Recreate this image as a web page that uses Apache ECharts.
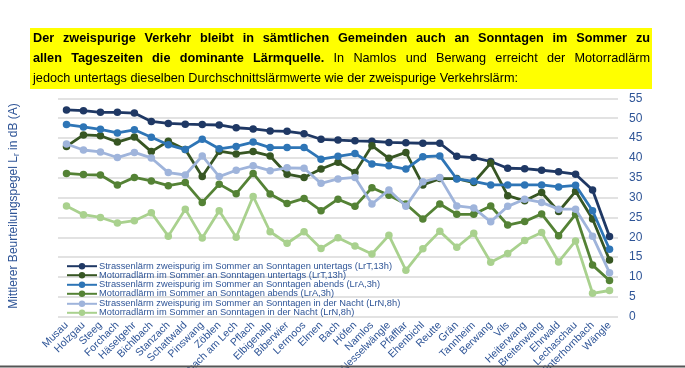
<!DOCTYPE html>
<html><head><meta charset="utf-8">
<script src="https://cdn.jsdelivr.net/npm/echarts@6/dist/echarts.min.js"></script>
<style>html,body{margin:0;padding:0;background:#fff}#c{width:685px;height:368px}</style>
</head><body><div id="c"></div>
<script>
const categories = ['Musau','Holzgau','Steeg','Forchach','Häselgehr','Bichlbach','Stanzach','Schattwald','Pinswang','Zöblen','Weißenbach am Lech','Pflach','Elbigenalp','Biberwier','Lermoos','Elmen','Bach','Höfen','Namlos','Nesselwängle','Pfafflar','Ehenbichl','Reutte','Grän','Tannheim','Berwang','Vils','Heiterwang','Breitenwang','Ehrwald','Lechaschau','Hinterhornbach','Wängle'];
const strasseLrT = [52.1,51.9,51.5,51.5,51.3,49.2,48.7,48.5,48.4,48.3,47.6,47.3,46.8,46.7,46.1,44.7,44.5,44.3,44.2,43.9,43.8,43.7,43.7,40.4,40.1,39.1,37.4,37.3,36.9,36.5,35.9,31.9,20.2];
const motorradLrT = [42.9,45.8,45.6,44.0,45.3,41.6,44.2,42.1,35.3,41.7,41.0,41.6,40.5,35.9,35.1,37.2,38.9,36.3,43.1,39.9,41.4,33.2,34.8,34.8,33.8,38.7,30.5,29.2,31.3,26.5,31.6,24.6,14.3];
const strasseLrA = [48.4,47.8,47.2,46.3,47.1,45.2,43.3,42.1,44.7,42.3,42.9,44.0,42.6,42.6,42.6,39.7,40.4,41.1,38.5,38.0,37.2,40.3,40.5,34.7,34.1,33.2,33.2,33.2,33.2,32.7,33.1,26.7,17.0];
const motorradLrA = [36.1,35.8,35.7,33.2,35.1,34.2,33.0,33.8,28.8,33.4,31.0,36.1,30.9,28.5,29.8,26.7,29.6,27.8,32.5,30.6,28.4,24.6,28.4,25.8,25.8,27.9,23.1,24.0,25.9,20.4,25.8,13.0,9.1];
const strasseLrN = [43.5,42.0,41.5,40.1,41.4,40.0,36.3,35.7,40.5,35.3,36.9,38.0,36.8,37.5,37.4,33.6,34.7,35.1,28.4,31.9,27.8,34.0,35.1,27.9,27.4,23.9,27.8,29.6,28.8,27.1,27.1,20.3,11.1];
const motorradLrN = [27.9,25.7,25.0,23.6,24.2,26.2,20.3,27.1,19.8,26.7,20.0,30.3,21.4,18.5,21.4,17.2,19.9,17.8,15.8,20.5,11.7,17.1,21.5,17.5,21.0,13.7,15.9,19.2,21.2,13.8,19.1,5.9,6.6];
const seriesNames = [
  'Strassenlärm zweispurig im Sommer an Sonntagen untertags (LrT,13h)',
  'Motorradlärm im Sommer an Sonntagen untertags (LrT,13h)',
  'Strassenlärm zweispurig im Sommer an Sonntagen abends (LrA,3h)',
  'Motorradlärm im Sommer an Sonntagen abends (LrA,3h)',
  'Strassenlärm zweispurig im Sommer an Sonntagen in der Nacht (LrN,8h)',
  'Motorradlärm im Sommer an Sonntagen in der Nacht (LrN,8h)'
];
const seriesColors = ['#1F3864','#375623','#2E75B6','#548235','#9FB4DB','#A9D18E'];
const seriesData = [strasseLrT, motorradLrT, strasseLrA, motorradLrA, strasseLrN, motorradLrN];
const yMin = 0, yMax = 55, yStep = 5;
const yAxisTitle = 'Mittlerer Beurteilungspegel L{sub|r} in dB (A)';
const titleLine1 = 'Der zweispurige Verkehr bleibt in sämtlichen Gemeinden auch an Sonntagen im Sommer zu';
const titleLine2Bold = 'allen Tageszeiten die dominante Lärmquelle.';
const titleLine2Normal = 'In Namlos und Berwang erreicht der Motorradlärm';
const titleLine3 = 'jedoch untertags dieselben Durchschnittslärmwerte wie der zweispurige Verkehrslärm:';

const FONT = '"Liberation Sans", Arial, sans-serif';
const TXT = '#2F5597';

const ctx2 = document.createElement('canvas').getContext('2d');
function mw(t, bold, size){ ctx2.font = (bold?'bold ':'') + size + 'px ' + FONT; return ctx2.measureText(t).width; }
const TS = 13;
const l3target = 485;
const sx = l3target / mw(titleLine3, false, TS);
const graphics = [];
graphics.push({type:'rect', z:0, shape:{x:30,y:28,width:622,height:61}, style:{fill:'#FFFF00'}});
function justify(words, x0, x1, y){
  const widths = words.map(w => mw(w.t, w.b, TS) * sx);
  const total = widths.reduce((a,b)=>a+b,0);
  const gap = (x1 - x0 - total) / (words.length - 1);
  let x = x0;
  words.forEach((w,i) => {
    graphics.push({type:'text', z:2, x:x, y:y, scaleX:sx, style:{text:w.t, font:(w.b?'bold ':'')+TS+'px '+FONT, fill:'#000', verticalAlign:'middle', align:'left'}});
    x += widths[i] + gap;
  });
}
justify(titleLine1.split(' ').map(t=>({t,b:true})), 33, 650, 38);
justify(titleLine2Bold.split(' ').map(t=>({t,b:true})).concat(titleLine2Normal.split(' ').map(t=>({t,b:false}))), 33, 650, 58);
graphics.push({type:'text', z:2, x:33, y:78, scaleX:sx, style:{text:titleLine3, font:TS+'px '+FONT, fill:'#000', verticalAlign:'middle', align:'left'}});
graphics.push({type:'text', z:2, x:14, y:206, rotation:Math.PI/2, style:{text:yAxisTitle, font:'12px '+FONT, fill:TXT, align:'center', verticalAlign:'middle', rich:{sub:{fontSize:8.5, fill:TXT, verticalAlign:'bottom', padding:[6,0,0,0]}}}});
graphics.push({type:'line', z:2, shape:{x1:0,y1:366.5,x2:685,y2:366.5}, style:{stroke:'#555',lineWidth:2}});

const series = seriesData.map((d,i)=>({
  name: seriesNames[i], type:'line', data:d, color:seriesColors[i],
  symbol:'circle', symbolSize:7.5, lineStyle:{width:2.8, color:seriesColors[i]},
  itemStyle:{color:seriesColors[i]}, animation:false, z:3+i
}));
function legend(idx, top){
  return {data:[seriesNames[idx], seriesNames[idx+1]], orient:'vertical', left:66, top:top, itemWidth:30, itemHeight:8, itemGap:0,
    textStyle:{fontFamily:FONT, fontSize:9.3, color:TXT, lineHeight:8, padding:[0,0,0,-3]}, padding:0, selectedMode:false};
}
const chart = echarts.init(document.getElementById('c'), null, {renderer:'canvas'});
chart.setOption({
  animation:false,
  grid:{left:58, right:67, top:98.4, bottom:51.3, containLabel:false, outerBoundsMode:'none'},
  legend:[legend(0,261.7), legend(2,280.3), legend(4,299.3)],
  xAxis:{type:'category', data:categories, boundaryGap:true, axisLine:{show:false}, axisTick:{show:false},
    axisLabel:{interval:0, rotate:45, fontSize:10.5, fontFamily:FONT, color:TXT, margin:7}},
  yAxis:{type:'value', position:'right', min:yMin, max:yMax, interval:yStep, axisLine:{show:false}, axisTick:{show:false},
    splitLine:{lineStyle:{color:'#D9D9D9', width:1.5}},
    axisLabel:{fontSize:12, fontFamily:FONT, color:TXT, margin:11}},
  series: series,
  graphic: graphics
});
</script></body></html>
